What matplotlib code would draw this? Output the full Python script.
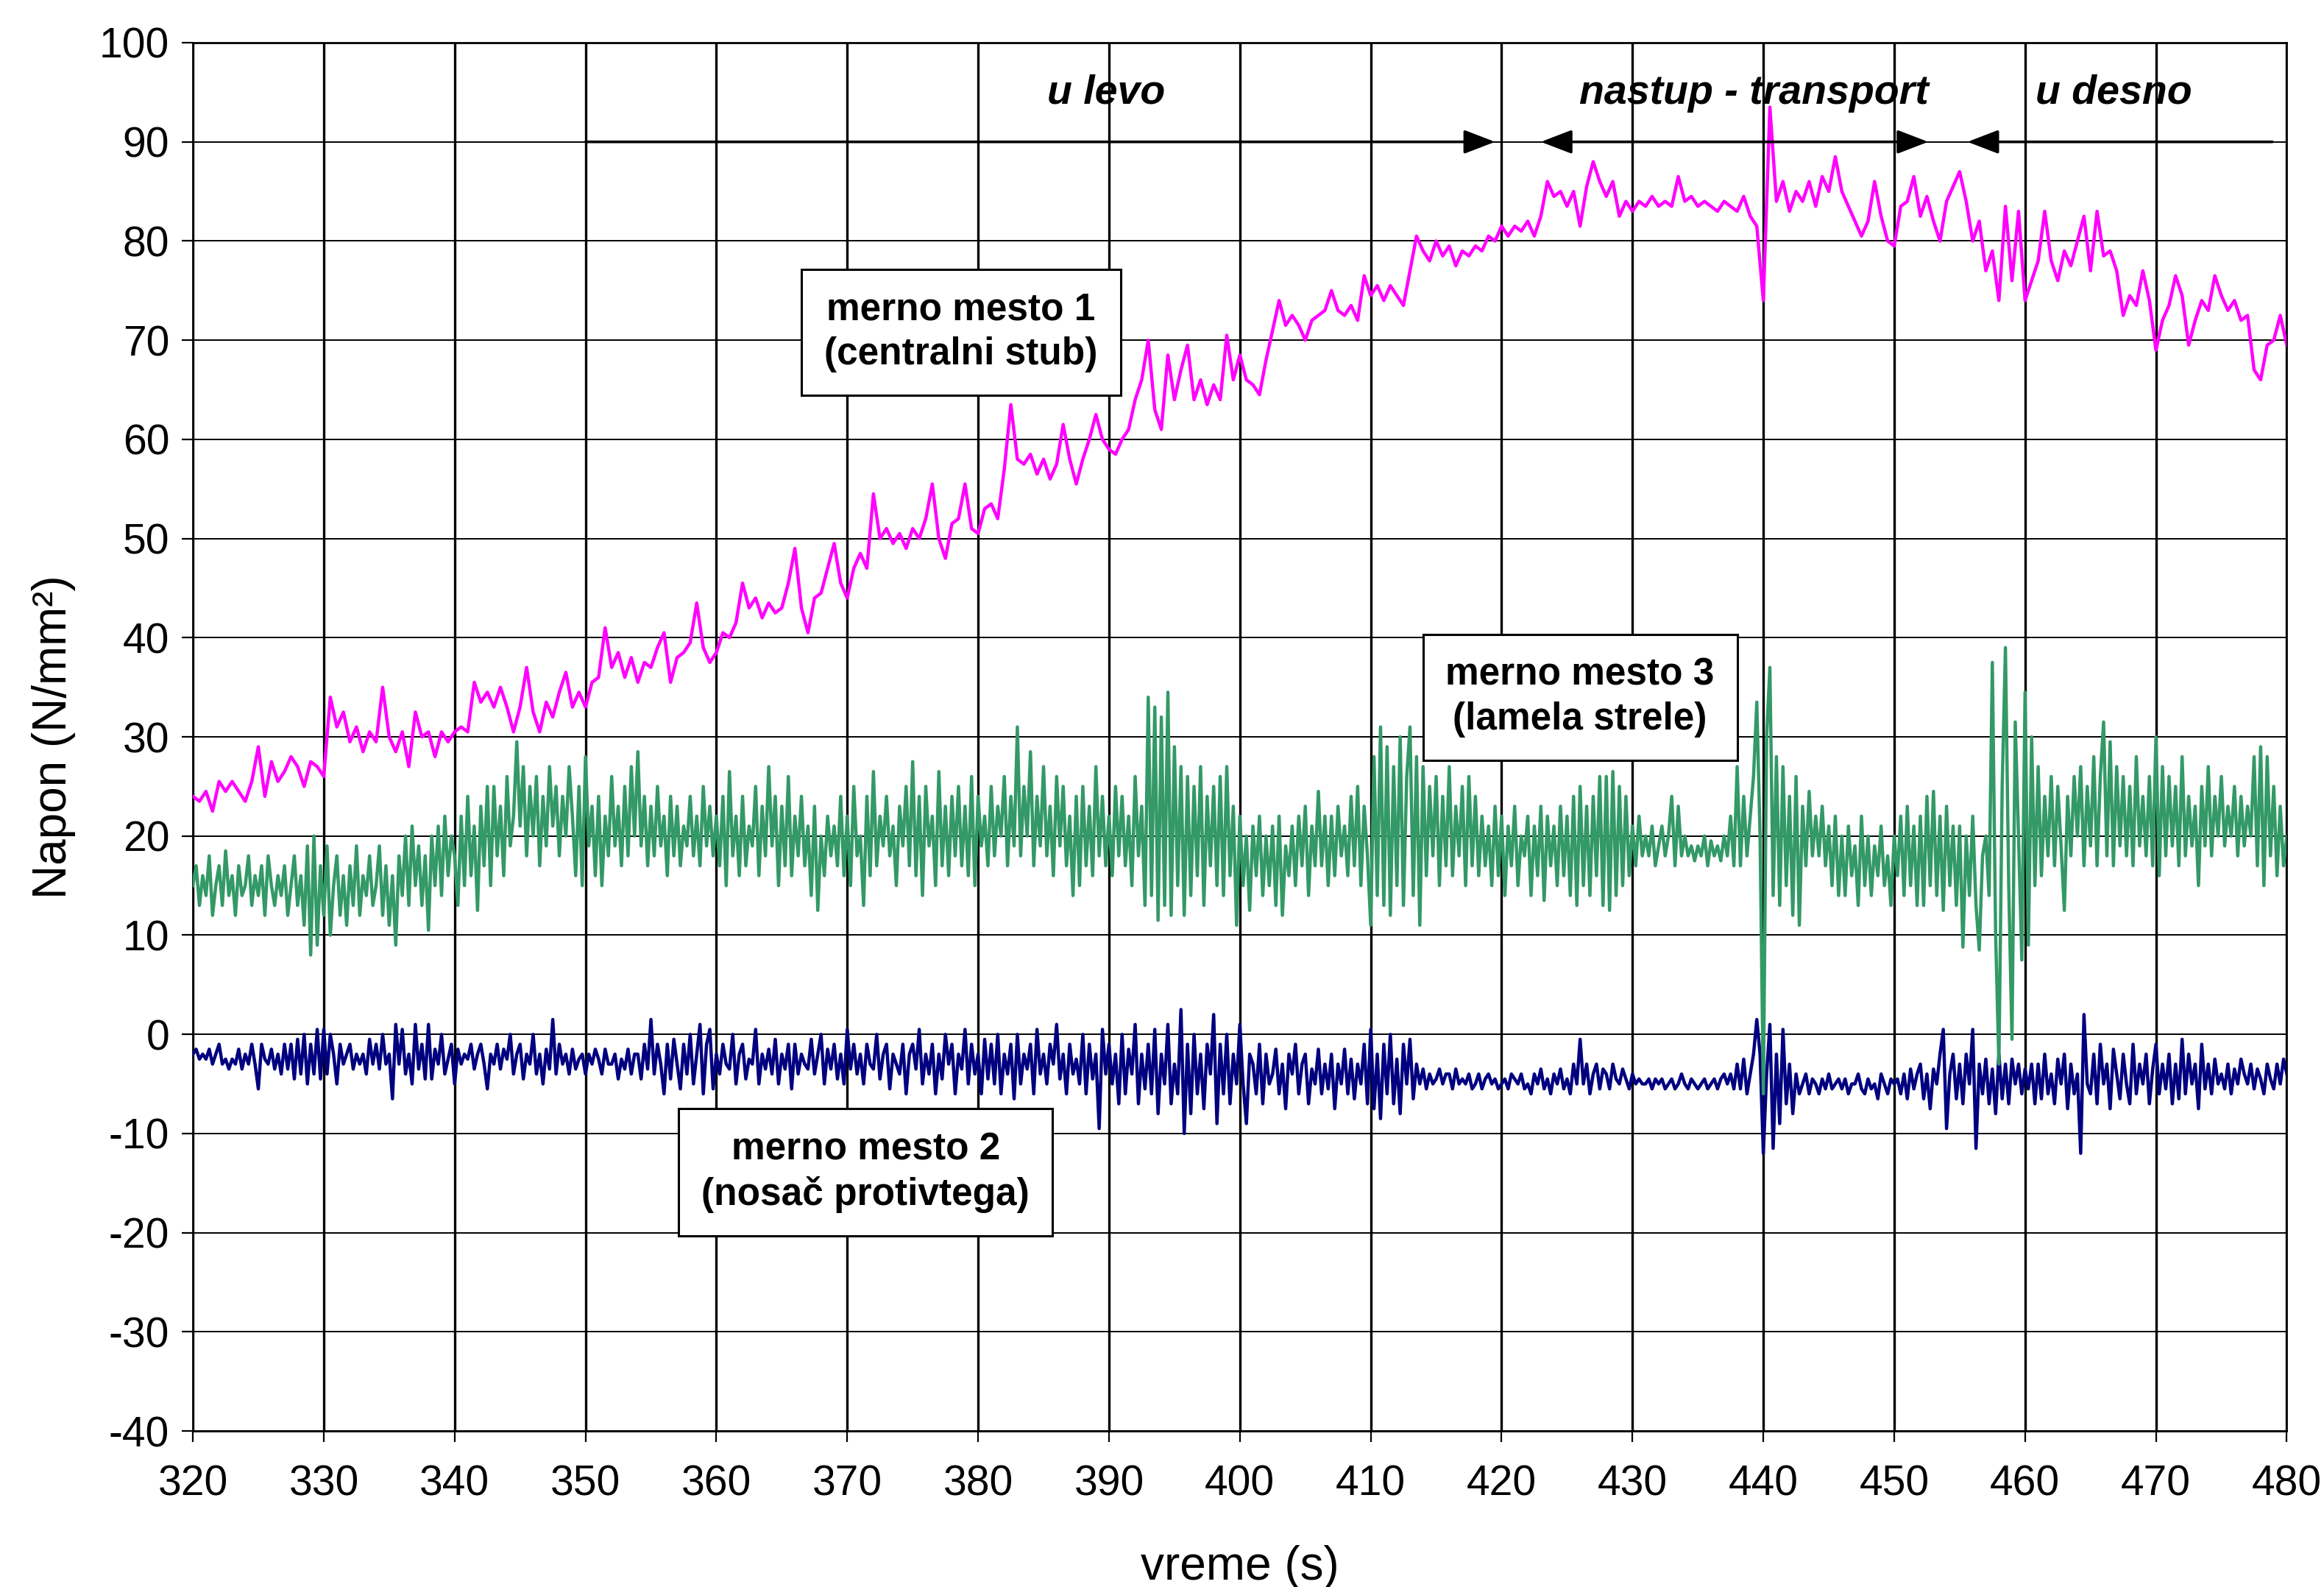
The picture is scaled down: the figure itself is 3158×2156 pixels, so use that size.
import numpy as np
import matplotlib
matplotlib.use("Agg")
import matplotlib.pyplot as plt

plt.rcParams["font.family"] = ["Liberation Sans", "DejaVu Sans"]
plt.rcParams["axes.unicode_minus"] = False

# merno mesto 1 (magenta), 0.5 s step, 320 .. 480 s
t1_start, t1_step = 320.0, 0.5
mm1 = [
    24, 23.5, 24.5, 22.5, 25.5, 24.5, 25.5, 24.5, 23.5, 25.5, 29, 24, 27.5, 25.5, 26.5, 28, 27, 25, 27.5, 27,
    26, 34, 31, 32.5, 29.5, 31, 28.5, 30.5, 29.5, 35, 30, 28.5, 30.5, 27, 32.5, 30, 30.5, 28, 30.5, 29.5,
    30.5, 31, 30.5, 35.5, 33.5, 34.5, 33, 35, 33, 30.5, 33, 37, 32.5, 30.5, 33.5, 32, 34.5, 36.5, 33, 34.5,
    33, 35.5, 36, 41, 37, 38.5, 36, 38, 35.5, 37.5, 37, 39, 40.5, 35.5, 38, 38.5, 39.5, 43.5, 39, 37.5,
    38.5, 40.5, 40, 41.5, 45.5, 43, 44, 42, 43.5, 42.5, 43, 45.5, 49, 43, 40.5, 44, 44.5, 47, 49.5, 45.5,
    44, 47, 48.5, 47, 54.5, 50, 51, 49.5, 50.5, 49, 51, 50, 52, 55.5, 50, 48, 51.5, 52, 55.5, 51,
    50.5, 53, 53.5, 52, 57, 63.5, 58, 57.5, 58.5, 56.5, 58, 56, 57.5, 61.5, 58, 55.5, 58, 60, 62.5, 60,
    59, 58.5, 60, 61, 64, 66, 70, 63, 61, 68.5, 64, 67, 69.5, 64, 66, 63.5, 65.5, 64, 70.5, 66,
    68.5, 66, 65.5, 64.5, 68, 71, 74, 71.5, 72.5, 71.5, 70, 72, 72.5, 73, 75, 73, 72.5, 73.5, 72, 76.5,
    74.5, 75.5, 74, 75.5, 74.5, 73.5, 77, 80.5, 79, 78, 80, 78.5, 79.5, 77.5, 79, 78.5, 79.5, 79, 80.5, 80,
    81.5, 80.5, 81.5, 81, 82, 80.5, 82.5, 86, 84.5, 85, 83.5, 85, 81.5, 85.5, 88, 86, 84.5, 86, 82.5, 84,
    83, 84, 83.5, 84.5, 83.5, 84, 83.5, 86.5, 84, 84.5, 83.5, 84, 83.5, 83, 84, 83.5, 83, 84.5, 82.5, 81.5,
    74, 93.5, 84, 86, 83, 85, 84, 86, 83.5, 86.5, 85, 88.5, 85, 83.5, 82, 80.5, 82, 86, 82.5, 80,
    79.5, 83.5, 84, 86.5, 82.5, 84.5, 82, 80, 84, 85.5, 87, 84, 80, 82, 77, 79, 74, 83.5, 76, 83,
    74, 76, 78, 83, 78, 76, 79, 77.5, 80, 82.5, 77, 83, 78.5, 79, 77, 72.5, 74.5, 73.5, 77, 74,
    69, 72, 73.5, 76.5, 74.5, 69.5, 72, 74, 73, 76.5, 74.5, 73, 74, 72, 72.5, 67, 66, 69.5, 70, 72.5,
    69.5,
]

# merno mesto 3 (green), 0.25 s step
t3_start, t3_step = 320.0, 0.25
mm3 = [
    15, 17, 13, 16, 14, 18, 12, 15, 17, 13, 18.5, 14, 16, 12, 17, 14, 15, 18, 13, 16,
    14, 17, 12, 18, 15, 13, 16, 14, 17, 12, 15, 18, 13, 16, 11, 19, 8, 20, 9, 17,
    12, 19, 10, 15, 18, 12, 16, 11, 17, 13, 19, 12, 16, 14, 18, 13, 15, 19, 12, 17,
    11, 16, 9, 18, 14, 20, 13, 21, 15, 19, 13, 18, 10.5, 20, 15, 21, 14, 22, 16, 20,
    18, 13, 22, 15, 24, 16, 21, 12.5, 23, 17, 25, 15, 25, 18, 23, 16, 26, 19, 22, 29.5,
    21, 27, 18, 25, 20, 26, 17, 24, 19, 27, 21, 25, 18, 24, 20, 27, 22, 16, 25, 15,
    28, 19, 23, 16, 24, 15, 22, 18, 26, 19, 23, 17, 25, 18, 27, 20, 28.5, 19, 24, 17,
    23, 18, 25, 19, 22, 16, 24, 18, 23, 17, 21, 19, 24, 18, 22, 17, 25, 19, 23, 18,
    22, 17, 24, 15, 26.5, 18, 22, 16, 24, 17, 21, 19, 25, 16, 23, 18, 27, 19, 24, 15,
    23, 17, 26, 16, 22, 18, 24, 17, 21, 14, 23, 12.5, 20, 16, 22, 18, 21, 17, 24, 16,
    22, 15, 25, 18, 20, 13, 24, 16, 26.5, 17, 22, 19, 24, 18, 21, 15, 23, 19, 25, 17,
    27.5, 16, 24, 14, 25, 19, 22, 15, 26.5, 17, 23, 16, 24, 18, 25, 17, 23, 16, 26, 15,
    24, 19, 22, 17, 25, 18, 23, 20, 26, 17, 24, 19, 31, 18, 25, 20, 28.5, 17, 24, 19,
    27, 18, 23, 16, 26, 19, 25, 17, 22, 14, 24, 15, 25, 17, 23, 16, 27, 18, 24, 17,
    22, 16, 25, 18, 24, 17, 22, 15, 26, 18, 23, 13, 34, 14, 33, 11.5, 32, 13, 34.5, 12,
    29, 15, 27, 12, 26, 14, 25, 16, 27, 13, 24, 17, 25, 15, 26, 14, 27, 16, 23, 11,
    22, 15, 20, 12.5, 21, 16, 22, 14, 20, 15, 21, 13, 22, 12, 19, 16, 21, 15, 22, 17,
    23, 14, 21, 17, 24.5, 17, 22, 15, 22, 16, 23, 18, 21, 16, 24, 17, 25, 15, 23, 18,
    11, 28, 14, 31, 13, 29, 12, 27, 15, 30, 13, 26, 31, 14, 28, 11, 27, 16, 25, 18,
    26, 15, 24, 17, 27, 16, 23, 18, 25, 15, 26, 17, 24, 16, 22, 17, 21, 15, 23, 16,
    22, 14, 21, 17, 23, 15, 20, 18, 22, 14, 21, 16, 23, 13.5, 22, 17, 21, 15, 23, 16,
    22, 14, 24, 13, 25, 15, 23, 14, 24, 16, 26, 13, 26, 12.5, 26.5, 14, 25, 15, 24, 16,
    21, 17, 22, 18, 20, 18, 21, 17, 19, 21, 18, 20, 24, 17, 23, 18, 20, 18, 19, 17.5,
    19, 18, 20, 17, 19.5, 18, 19, 17.5, 20, 18, 22, 17, 27, 17, 24, 18, 22, 26, 33.5, 20,
    -6, 30, 37, 14, 28, 13, 27, 15, 24, 12, 26, 11, 23, 17, 24.5, 18, 22, 18, 23, 17,
    21, 15, 22, 14, 20, 14, 21, 16, 19, 13, 22, 15, 20, 14, 19, 16, 21, 15, 18, 13,
    20, 16, 22, 14, 23, 15, 21, 13, 22, 13, 24, 15, 24.5, 14, 22, 12.5, 23, 15, 21, 13,
    21, 8.8, 20, 14, 22, 13, 8.5, 18, 20, 14, 37.5, 10, -3, 25, 39, 15, -0.5, 31.5, 20, 7.5,
    34.5, 9, 30, 15, 27, 16, 24, 18, 26, 17, 25, 19, 12.5, 24, 18, 26, 20, 27, 17, 25,
    19, 28, 17, 26, 31.5, 18, 29.5, 17, 27, 19, 26, 18, 25, 17, 28, 19, 24, 18, 26, 17,
    30, 16, 27, 18, 26, 19, 25, 17, 28, 18, 24, 19, 23, 15, 25, 19, 27, 18, 24, 20,
    26, 19, 23, 20, 25, 18, 24, 19, 23, 20, 28, 17, 29, 15, 28, 18, 25, 16, 23, 17,
    20,
]

# merno mesto 2 (navy), 0.25 s step
t2_start, t2_step = 320.0, 0.25
mm2 = [
    -2, -1.5, -2.5, -2, -2.5, -1.5, -3, -2, -1, -3, -2.5, -3.5, -2.5, -3, -1.5, -3.5, -2, -3, -1, -3,
    -5.5, -1, -2.5, -3, -1.5, -3.5, -2, -4, -1, -3.5, -1, -4.5, -0.5, -4, 0, -5, -1, -4, 0.5, -4.5,
    0.5, -4, 0, -2, -5, -1, -3, -2, -1, -3.5, -2, -3, -2, -4, -0.5, -3, -1, -3.5, 0, -3,
    -2, -6.5, 1, -3, 0.5, -4, -2, -5, 1, -3.5, -1, -4.5, 1, -4.5, -1.5, -3, 0, -4, -2.5, -1,
    -5, -1.5, -3, -2, -2.5, -1, -3.5, -2, -1, -3, -5.5, -2, -3, -1, -3.5, -1.5, -2.5, 0, -4, -2,
    -1, -4.5, -2, -3, 0, -4, -2, -5, -1.5, -3.5, 1.5, -4, -1, -3, -2, -4, -1.5, -3.5, -2.5, -2,
    -4, -2, -3, -1.5, -2.5, -4, -1.5, -3, -3, -2, -4.5, -2.5, -3.5, -1.5, -4, -2, -2, -4.5, -1, -3.5,
    1.5, -4, -1, -3, -6, -1, -4.5, -0.5, -3, -5.5, -1, -4, 0, -5, -2, 1, -6, -1, 0.5, -5.5,
    -2, -4, -1, -3, -3.5, 0, -5, -2, -1, -4.5, -2.5, -3, 0.5, -5, -2, -3.5, -1.5, -4, -0.5, -5,
    -2, -3.5, -1, -5.5, -1, -4, -2, -3, -3.5, -0.5, -4, -2, 0, -5, -1.5, -3.5, -1, -4.5, -2, -5,
    0.5, -3.5, -1, -4, -2, -5, -1, -3, -3.5, 0, -4.5, -2, -1, -5.5, -2, -3, -4, -1, -6, -2,
    -1, -3.5, 0.5, -5, -2, -4, -1, -6, -2, -4.5, 0, -3, -1, -6, -2, -3.5, 0.5, -5, -1, -4,
    -2, -6, -0.5, -4.5, -1, -5, 0, -6, -2, -4, -1, -6.5, 0, -5, -2, -3.5, -1, -6, 0.5, -4,
    -2, -5, -1, -3, 1, -4.5, -2, -6, -1, -4, -2.5, -5, 0, -6, -1, -4.5, -2, -9.5, 0.5, -4,
    -1, -5, -2, -7, 0, -6, -1.5, -4, 1, -7, -2, -5.5, -1, -6, 0.5, -8, -2, -5, 1, -7,
    -3, -6, 2.5, -10, -1, -8, 0, -6, -2, -7.5, -1, -4, 2, -9, -1, -6, 0, -7, -2, -5,
    1, -5, -9, -2, -3, -6, -1, -7, -2, -5, -4, -1.5, -6, -3, -7.5, -2, -4, -1, -6, -3,
    -2, -7, -3.5, -5, -1.5, -6, -3, -5.5, -2, -7.5, -3, -5, -1.5, -6, -2.5, -6.5, -3, -5, -1, -7,
    0.5, -7.5, -2, -8.5, -1, -6, 0, -7, -2.5, -8, -1, -5, -0.5, -6.5, -3, -5, -3.5, -5.5, -4, -5,
    -4.5, -3.5, -5, -4, -4, -5.5, -3.5, -5, -4.5, -5, -4, -5.5, -5, -4, -5.5, -4.5, -4, -5, -4.5, -5.5,
    -5, -4.5, -5.5, -4, -4.5, -5, -4, -5.5, -5, -6, -4, -5, -3.5, -5.5, -4.5, -6, -4, -5, -3.5, -5.5,
    -4.5, -6, -3, -5, -0.5, -5, -3, -6, -4, -3, -5.5, -3.5, -4, -5.5, -3, -4.5, -5, -3.5, -4.5, -5.5,
    -4, -5, -4.5, -5, -5, -4.5, -5.5, -4.5, -5, -4.5, -5.5, -5, -4.5, -5.5, -5, -4, -5, -5.5, -4.5, -5,
    -5.5, -5, -4.5, -5.5, -5, -4.5, -5.5, -4.5, -4, -5, -4, -5.5, -3, -5.5, -2.5, -6, -4, -2, 1.5, -2,
    -12, -4, 1, -11.5, -2, -9, 0.5, -7, -3, -8, -4, -6, -5, -4, -6, -4.5, -5, -6, -4.5, -5.5,
    -4, -5.5, -5, -4.5, -5.5, -4.5, -6, -5, -5, -4, -5.5, -6, -4.5, -5.5, -5, -6.5, -4, -5, -6, -4.5,
    -5, -4.5, -6, -4, -6.5, -3.5, -5.5, -4, -3, -6.5, -4, -7.5, -3.5, -5, -2, 0.5, -9.5, -4, -2, -6.5,
    -3, -7, -2, -5, 0.5, -11.5, -3, -6, -2.5, -7, -3.5, -8, -2, -6.5, -3, -7, -2.5, -5, -3, -6,
    -3.5, -5.5, -3, -7, -3, -6.5, -2, -6, -4, -7, -2.5, -5, -2, -7.5, -3, -6, -4, -12, 2, -5,
    -6, -2, -7, -1, -5, -3, -7.5, -1.5, -4, -6.5, -2, -5, -7, -1, -6, -3, -5, -2, -7, -3.5,
    -1, -6, -3, -5.5, -2, -7, -3, -6.5, -0.5, -6, -2, -5, -3, -7.5, -1, -5.5, -3, -6, -2.5, -5,
    -4, -5.5, -3, -6, -3.5, -5, -2.5, -4, -5, -3, -5.5, -3.5, -4.5, -6, -3, -4.5, -5.5, -3, -5, -2.5,
    -4,
]

x_ticks = list(range(320, 481, 10))
y_ticks = list(range(-40, 101, 10))

t1 = t1_start + t1_step * np.arange(len(mm1))
t2 = t2_start + t2_step * np.arange(len(mm2))
t3 = t3_start + t3_step * np.arange(len(mm3))

fig = plt.figure(figsize=(31.58, 21.56), dpi=100)
ax = fig.add_axes([0.083, 0.0983, 0.901, 0.8748])

ax.plot(t1, mm1, color="#ff00ff", lw=3.2, zorder=3)
ax.plot(t2, mm2, color="#000080", lw=3.2, zorder=3)
ax.plot(t3, mm3, color="#339966", lw=3.2, zorder=4)

ax.set_xlim(320, 480)
ax.set_ylim(-40, 100)
ax.set_xticks(x_ticks)
ax.set_yticks(y_ticks)
ax.set_axisbelow(True)
ax.xaxis.grid(True, color="black", lw=2.4)
ax.yaxis.grid(True, color="black", lw=1.4)
for s in ax.spines.values():
    s.set_color("black")
    s.set_linewidth(2)

ax.tick_params(axis="both", direction="out", length=11, width=1.6, labelsize=41)
ax.tick_params(axis="x", pad=22)
ax.tick_params(axis="y", pad=12)

ax.set_xlabel("vreme (s)", fontsize=46)
ax.set_ylabel("Napon (N/mm²)", fontsize=46)
ax.xaxis.set_label_coords(0.5, -0.082)
ax.yaxis.set_label_coords(-0.056, 0.5)

box = dict(boxstyle="square,pad=0.6", fc="white", ec="black", lw=2.2)
ax.text(378.7, 70.8, "merno mesto 1\n(centralni stub)", ha="center", va="center",
        fontsize=37, fontweight="bold", linespacing=1.3, bbox=box, zorder=5)
ax.text(426.0, 34.0, "merno mesto 3\n(lamela strele)", ha="center", va="center",
        fontsize=37, fontweight="bold", linespacing=1.3, bbox=box, zorder=5)
ax.text(371.4, -13.9, "merno mesto 2\n(nosač protivtega)", ha="center", va="center",
        fontsize=37, fontweight="bold", linespacing=1.3, bbox=box, zorder=5)

# phase markers above the curves
arrow_kw = dict(lw=2.6, color="black", shrinkA=0, shrinkB=0, mutation_scale=20)
head = "head_length=1.3,head_width=0.5"
ax.annotate("", xy=(419.5, 90), xytext=(350, 90),
            arrowprops=dict(arrowstyle="-|>," + head, **arrow_kw), zorder=5)
ax.annotate("", xy=(452.6, 90), xytext=(423.0, 90),
            arrowprops=dict(arrowstyle="<|-|>," + head, **arrow_kw), zorder=5)
ax.annotate("", xy=(455.6, 90), xytext=(478.9, 90),
            arrowprops=dict(arrowstyle="-|>," + head, **arrow_kw), zorder=5)

lbl = dict(ha="center", va="center", fontsize=40, fontweight="bold", fontstyle="italic", zorder=5)
ax.text(389.8, 94.9, "u levo", **lbl)
ax.text(439.3, 94.9, "nastup - transport", **lbl)
ax.text(466.8, 94.9, "u desno", **lbl)

fig.savefig("out.png", dpi=100)
